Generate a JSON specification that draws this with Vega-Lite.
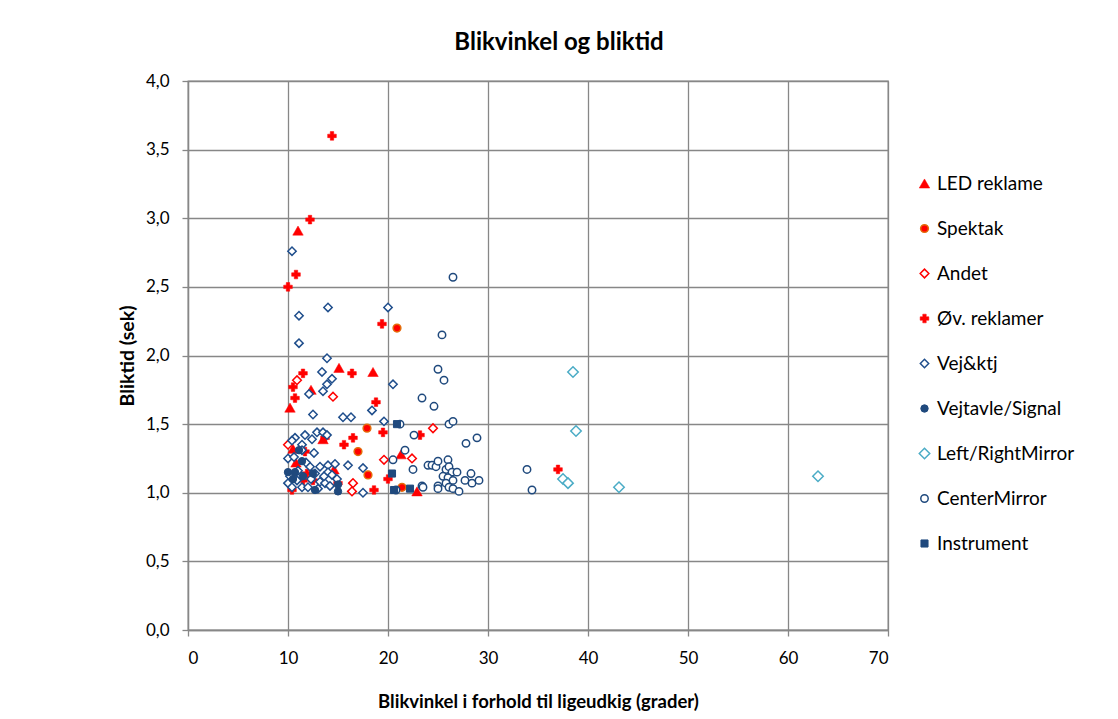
{
  "$schema": "https://vega.github.io/schema/vega-lite/v6.json",
  "width": 700,
  "height": 549,
  "autosize": {"type": "none"},
  "padding": {"left": 188, "top": 81, "right": 230, "bottom": 89},
  "background": "white",
  "title": {"text": "Blikvinkel og bliktid", "font": "Lato", "fontSize": 24, "fontWeight": "bold", "color": "#000000", "anchor": "middle", "dx": 21, "offset": 17},
  "config": {
    "view": {"stroke": "#878787", "strokeWidth": 1.3},
    "font": "Lato",
    "axis": {"gridColor": "#878787", "gridWidth": 1.3, "gridOpacity": 1, "domainColor": "#878787", "domainWidth": 1.3, "tickColor": "#878787", "tickWidth": 1.3, "tickSize": 6, "labelFont": "Lato", "labelFontSize": 17, "labelColor": "#000000", "titleFont": "Lato", "titleFontSize": 18.5, "titleFontWeight": "bold", "titleColor": "#000000"}
  },
  "data": {"values": [
    {"x": 11.0, "y": 2.91, "k": "LED reklame"},
    {"x": 15.1, "y": 1.91, "k": "LED reklame"},
    {"x": 18.5, "y": 1.88, "k": "LED reklame"},
    {"x": 12.3, "y": 1.75, "k": "LED reklame"},
    {"x": 10.2, "y": 1.62, "k": "LED reklame"},
    {"x": 10.5, "y": 1.32, "k": "LED reklame"},
    {"x": 10.8, "y": 1.22, "k": "LED reklame"},
    {"x": 13.5, "y": 1.39, "k": "LED reklame"},
    {"x": 14.6, "y": 1.17, "k": "LED reklame"},
    {"x": 21.3, "y": 1.28, "k": "LED reklame"},
    {"x": 22.9, "y": 1.01, "k": "LED reklame"},
    {"x": 20.9, "y": 2.20, "k": "Spektak"},
    {"x": 17.9, "y": 1.47, "k": "Spektak"},
    {"x": 17.0, "y": 1.30, "k": "Spektak"},
    {"x": 18.0, "y": 1.13, "k": "Spektak"},
    {"x": 21.4, "y": 1.04, "k": "Spektak"},
    {"x": 10.9, "y": 1.82, "k": "Andet"},
    {"x": 14.5, "y": 1.70, "k": "Andet"},
    {"x": 10.0, "y": 1.35, "k": "Andet"},
    {"x": 24.5, "y": 1.47, "k": "Andet"},
    {"x": 19.6, "y": 1.24, "k": "Andet"},
    {"x": 22.4, "y": 1.25, "k": "Andet"},
    {"x": 16.5, "y": 1.07, "k": "Andet"},
    {"x": 16.4, "y": 1.01, "k": "Andet"},
    {"x": 14.4, "y": 3.60, "k": "Øv. reklamer"},
    {"x": 12.2, "y": 2.99, "k": "Øv. reklamer"},
    {"x": 10.8, "y": 2.59, "k": "Øv. reklamer"},
    {"x": 10.0, "y": 2.50, "k": "Øv. reklamer"},
    {"x": 19.4, "y": 2.23, "k": "Øv. reklamer"},
    {"x": 11.5, "y": 1.87, "k": "Øv. reklamer"},
    {"x": 16.4, "y": 1.87, "k": "Øv. reklamer"},
    {"x": 10.5, "y": 1.77, "k": "Øv. reklamer"},
    {"x": 10.7, "y": 1.69, "k": "Øv. reklamer"},
    {"x": 18.8, "y": 1.66, "k": "Øv. reklamer"},
    {"x": 19.5, "y": 1.44, "k": "Øv. reklamer"},
    {"x": 23.2, "y": 1.42, "k": "Øv. reklamer"},
    {"x": 16.5, "y": 1.40, "k": "Øv. reklamer"},
    {"x": 15.6, "y": 1.35, "k": "Øv. reklamer"},
    {"x": 13.7, "y": 1.40, "k": "Øv. reklamer"},
    {"x": 11.7, "y": 1.30, "k": "Øv. reklamer"},
    {"x": 11.9, "y": 1.14, "k": "Øv. reklamer"},
    {"x": 11.5, "y": 1.09, "k": "Øv. reklamer"},
    {"x": 12.5, "y": 1.09, "k": "Øv. reklamer"},
    {"x": 15.0, "y": 1.07, "k": "Øv. reklamer"},
    {"x": 18.6, "y": 1.02, "k": "Øv. reklamer"},
    {"x": 20.0, "y": 1.10, "k": "Øv. reklamer"},
    {"x": 10.4, "y": 1.02, "k": "Øv. reklamer"},
    {"x": 37.0, "y": 1.17, "k": "Øv. reklamer"},
    {"x": 10.4, "y": 2.76, "k": "Vej&ktj"},
    {"x": 11.1, "y": 2.29, "k": "Vej&ktj"},
    {"x": 14.0, "y": 2.35, "k": "Vej&ktj"},
    {"x": 20.0, "y": 2.35, "k": "Vej&ktj"},
    {"x": 11.1, "y": 2.09, "k": "Vej&ktj"},
    {"x": 13.9, "y": 1.98, "k": "Vej&ktj"},
    {"x": 13.4, "y": 1.88, "k": "Vej&ktj"},
    {"x": 14.4, "y": 1.83, "k": "Vej&ktj"},
    {"x": 13.9, "y": 1.79, "k": "Vej&ktj"},
    {"x": 13.5, "y": 1.74, "k": "Vej&ktj"},
    {"x": 12.1, "y": 1.72, "k": "Vej&ktj"},
    {"x": 20.5, "y": 1.79, "k": "Vej&ktj"},
    {"x": 18.4, "y": 1.60, "k": "Vej&ktj"},
    {"x": 12.5, "y": 1.57, "k": "Vej&ktj"},
    {"x": 15.5, "y": 1.55, "k": "Vej&ktj"},
    {"x": 16.3, "y": 1.55, "k": "Vej&ktj"},
    {"x": 19.6, "y": 1.52, "k": "Vej&ktj"},
    {"x": 12.9, "y": 1.44, "k": "Vej&ktj"},
    {"x": 13.5, "y": 1.44, "k": "Vej&ktj"},
    {"x": 13.9, "y": 1.42, "k": "Vej&ktj"},
    {"x": 10.7, "y": 1.40, "k": "Vej&ktj"},
    {"x": 11.7, "y": 1.42, "k": "Vej&ktj"},
    {"x": 12.4, "y": 1.39, "k": "Vej&ktj"},
    {"x": 10.4, "y": 1.38, "k": "Vej&ktj"},
    {"x": 11.4, "y": 1.35, "k": "Vej&ktj"},
    {"x": 11.4, "y": 1.31, "k": "Vej&ktj"},
    {"x": 12.6, "y": 1.29, "k": "Vej&ktj"},
    {"x": 10.0, "y": 1.25, "k": "Vej&ktj"},
    {"x": 10.6, "y": 1.26, "k": "Vej&ktj"},
    {"x": 12.2, "y": 1.19, "k": "Vej&ktj"},
    {"x": 13.2, "y": 1.19, "k": "Vej&ktj"},
    {"x": 14.0, "y": 1.20, "k": "Vej&ktj"},
    {"x": 14.7, "y": 1.21, "k": "Vej&ktj"},
    {"x": 16.0, "y": 1.20, "k": "Vej&ktj"},
    {"x": 11.2, "y": 1.13, "k": "Vej&ktj"},
    {"x": 12.7, "y": 1.14, "k": "Vej&ktj"},
    {"x": 14.0, "y": 1.15, "k": "Vej&ktj"},
    {"x": 14.4, "y": 1.13, "k": "Vej&ktj"},
    {"x": 14.9, "y": 1.10, "k": "Vej&ktj"},
    {"x": 10.0, "y": 1.07, "k": "Vej&ktj"},
    {"x": 10.9, "y": 1.09, "k": "Vej&ktj"},
    {"x": 10.4, "y": 1.04, "k": "Vej&ktj"},
    {"x": 11.4, "y": 1.04, "k": "Vej&ktj"},
    {"x": 12.0, "y": 1.04, "k": "Vej&ktj"},
    {"x": 13.2, "y": 1.08, "k": "Vej&ktj"},
    {"x": 13.7, "y": 1.07, "k": "Vej&ktj"},
    {"x": 17.5, "y": 1.18, "k": "Vej&ktj"},
    {"x": 17.5, "y": 1.00, "k": "Vej&ktj"},
    {"x": 12.3, "y": 1.10, "k": "Vej&ktj"},
    {"x": 13.0, "y": 1.03, "k": "Vej&ktj"},
    {"x": 14.2, "y": 1.05, "k": "Vej&ktj"},
    {"x": 11.8, "y": 1.22, "k": "Vej&ktj"},
    {"x": 11.0, "y": 1.16, "k": "Vej&ktj"},
    {"x": 10.2, "y": 1.12, "k": "Vej&ktj"},
    {"x": 13.6, "y": 1.12, "k": "Vej&ktj"},
    {"x": 11.1, "y": 1.31, "k": "Vejtavle/Signal"},
    {"x": 11.4, "y": 1.23, "k": "Vejtavle/Signal"},
    {"x": 10.0, "y": 1.15, "k": "Vejtavle/Signal"},
    {"x": 10.7, "y": 1.15, "k": "Vejtavle/Signal"},
    {"x": 12.5, "y": 1.14, "k": "Vejtavle/Signal"},
    {"x": 12.7, "y": 1.02, "k": "Vejtavle/Signal"},
    {"x": 15.0, "y": 1.01, "k": "Vejtavle/Signal"},
    {"x": 15.0, "y": 1.06, "k": "Vejtavle/Signal"},
    {"x": 11.5, "y": 1.12, "k": "Vejtavle/Signal"},
    {"x": 10.5, "y": 1.10, "k": "Vejtavle/Signal"},
    {"x": 38.5, "y": 1.88, "k": "Left/RightMirror"},
    {"x": 38.8, "y": 1.45, "k": "Left/RightMirror"},
    {"x": 37.5, "y": 1.10, "k": "Left/RightMirror"},
    {"x": 38.0, "y": 1.07, "k": "Left/RightMirror"},
    {"x": 43.1, "y": 1.04, "k": "Left/RightMirror"},
    {"x": 63.0, "y": 1.12, "k": "Left/RightMirror"},
    {"x": 26.5, "y": 2.57, "k": "CenterMirror"},
    {"x": 25.4, "y": 2.15, "k": "CenterMirror"},
    {"x": 25.0, "y": 1.90, "k": "CenterMirror"},
    {"x": 25.6, "y": 1.82, "k": "CenterMirror"},
    {"x": 23.4, "y": 1.69, "k": "CenterMirror"},
    {"x": 24.6, "y": 1.63, "k": "CenterMirror"},
    {"x": 26.1, "y": 1.50, "k": "CenterMirror"},
    {"x": 26.5, "y": 1.52, "k": "CenterMirror"},
    {"x": 21.2, "y": 1.50, "k": "CenterMirror"},
    {"x": 22.6, "y": 1.42, "k": "CenterMirror"},
    {"x": 27.8, "y": 1.36, "k": "CenterMirror"},
    {"x": 28.9, "y": 1.40, "k": "CenterMirror"},
    {"x": 20.5, "y": 1.24, "k": "CenterMirror"},
    {"x": 21.7, "y": 1.31, "k": "CenterMirror"},
    {"x": 22.5, "y": 1.17, "k": "CenterMirror"},
    {"x": 24.0, "y": 1.20, "k": "CenterMirror"},
    {"x": 24.4, "y": 1.20, "k": "CenterMirror"},
    {"x": 24.8, "y": 1.19, "k": "CenterMirror"},
    {"x": 25.0, "y": 1.23, "k": "CenterMirror"},
    {"x": 26.0, "y": 1.24, "k": "CenterMirror"},
    {"x": 25.8, "y": 1.17, "k": "CenterMirror"},
    {"x": 26.1, "y": 1.19, "k": "CenterMirror"},
    {"x": 26.4, "y": 1.15, "k": "CenterMirror"},
    {"x": 26.9, "y": 1.15, "k": "CenterMirror"},
    {"x": 25.5, "y": 1.12, "k": "CenterMirror"},
    {"x": 26.0, "y": 1.11, "k": "CenterMirror"},
    {"x": 26.5, "y": 1.09, "k": "CenterMirror"},
    {"x": 25.8, "y": 1.07, "k": "CenterMirror"},
    {"x": 25.0, "y": 1.05, "k": "CenterMirror"},
    {"x": 25.0, "y": 1.03, "k": "CenterMirror"},
    {"x": 26.1, "y": 1.04, "k": "CenterMirror"},
    {"x": 26.5, "y": 1.03, "k": "CenterMirror"},
    {"x": 27.1, "y": 1.01, "k": "CenterMirror"},
    {"x": 27.7, "y": 1.09, "k": "CenterMirror"},
    {"x": 28.3, "y": 1.14, "k": "CenterMirror"},
    {"x": 28.4, "y": 1.07, "k": "CenterMirror"},
    {"x": 29.1, "y": 1.09, "k": "CenterMirror"},
    {"x": 23.4, "y": 1.05, "k": "CenterMirror"},
    {"x": 23.5, "y": 1.04, "k": "CenterMirror"},
    {"x": 20.8, "y": 1.02, "k": "CenterMirror"},
    {"x": 33.9, "y": 1.17, "k": "CenterMirror"},
    {"x": 34.4, "y": 1.02, "k": "CenterMirror"},
    {"x": 20.9, "y": 1.50, "k": "Instrument"},
    {"x": 20.4, "y": 1.14, "k": "Instrument"},
    {"x": 20.6, "y": 1.02, "k": "Instrument"},
    {"x": 22.2, "y": 1.03, "k": "Instrument"}
  ]},
  "mark": {"type": "point", "filled": true, "opacity": 1},
  "encoding": {
    "x": {"field": "x", "type": "quantitative", "scale": {"domain": [0, 70], "nice": false, "zero": false},
      "axis": {"values": [0, 10, 20, 30, 40, 50, 60, 70], "grid": true, "labelPadding": 14, "titlePadding": 26, "title": "Blikvinkel i forhold til ligeudkig (grader)"}},
    "y": {"field": "y", "type": "quantitative", "scale": {"domain": [0, 4], "nice": false},
      "axis": {"values": [0, 0.5, 1, 1.5, 2, 2.5, 3, 3.5, 4], "grid": true, "labelPadding": 13, "titlePadding": 8, "title": "Bliktid (sek)", "titleFontSize": 19.5, "labelExpr": "replace(format(datum.value, '.1f'), '.', ',')"}},
    "shape": {"field": "k", "type": "nominal",
      "scale": {"domain": ["LED reklame", "Spektak", "Andet", "Øv. reklamer", "Vej&ktj", "Vejtavle/Signal", "Left/RightMirror", "CenterMirror", "Instrument"],
        "range": ["triangle-up", "circle", "diamond", "cross", "diamond", "circle", "diamond", "circle", "square"]},
      "legend": {"orient": "none", "legendX": 727, "legendY": 93, "title": null, "labelFontSize": 19, "labelFont": "Lato", "labelColor": "#000000", "rowPadding": 25, "labelOffset": 3, "padding": 0}},
    "stroke": {"field": "k", "type": "nominal",
      "scale": {"domain": ["LED reklame", "Spektak", "Andet", "Øv. reklamer", "Vej&ktj", "Vejtavle/Signal", "Left/RightMirror", "CenterMirror", "Instrument"],
        "range": ["#FF0000", "#E46C0A", "#FF0000", "#FF0000", "#1F4E8C", "#1F497D", "#4BACC6", "#1F497D", "#1F497D"]},
      "legend": {"orient": "none", "legendX": 727, "legendY": 93, "title": null, "labelFontSize": 19, "labelFont": "Lato", "labelColor": "#000000", "rowPadding": 25, "labelOffset": 3, "padding": 0}},
    "fill": {"field": "k", "type": "nominal",
      "scale": {"domain": ["LED reklame", "Spektak", "Andet", "Øv. reklamer", "Vej&ktj", "Vejtavle/Signal", "Left/RightMirror", "CenterMirror", "Instrument"],
        "range": ["#FF0000", "#FF0000", "#FFFFFF", "#FF0000", "#FFFFFF", "#1F497D", "#FFFFFF", "#FFFFFF", "#1F497D"]},
      "legend": {"orient": "none", "legendX": 727, "legendY": 93, "title": null, "labelFontSize": 19, "labelFont": "Lato", "labelColor": "#000000", "rowPadding": 25, "labelOffset": 3, "padding": 0}},
    "size": {"field": "k", "type": "nominal",
      "scale": {"type": "ordinal", "domain": ["LED reklame", "Spektak", "Andet", "Øv. reklamer", "Vej&ktj", "Vejtavle/Signal", "Left/RightMirror", "CenterMirror", "Instrument"],
        "range": [110, 60, 75, 75, 70, 55, 110, 55, 50]},
      "legend": {"orient": "none", "legendX": 727, "legendY": 93, "title": null, "labelFontSize": 19, "labelFont": "Lato", "labelColor": "#000000", "rowPadding": 25, "labelOffset": 3, "padding": 0}},
    "strokeWidth": {"field": "k", "type": "nominal",
      "scale": {"type": "ordinal", "domain": ["LED reklame", "Spektak", "Andet", "Øv. reklamer", "Vej&ktj", "Vejtavle/Signal", "Left/RightMirror", "CenterMirror", "Instrument"],
        "range": [0.5, 1.5, 1.5, 0.5, 1.5, 1, 1.5, 1.5, 1]},
      "legend": {"orient": "none", "legendX": 727, "legendY": 93, "title": null, "labelFontSize": 19, "labelFont": "Lato", "labelColor": "#000000", "rowPadding": 25, "labelOffset": 3, "padding": 0}}
  }
}
